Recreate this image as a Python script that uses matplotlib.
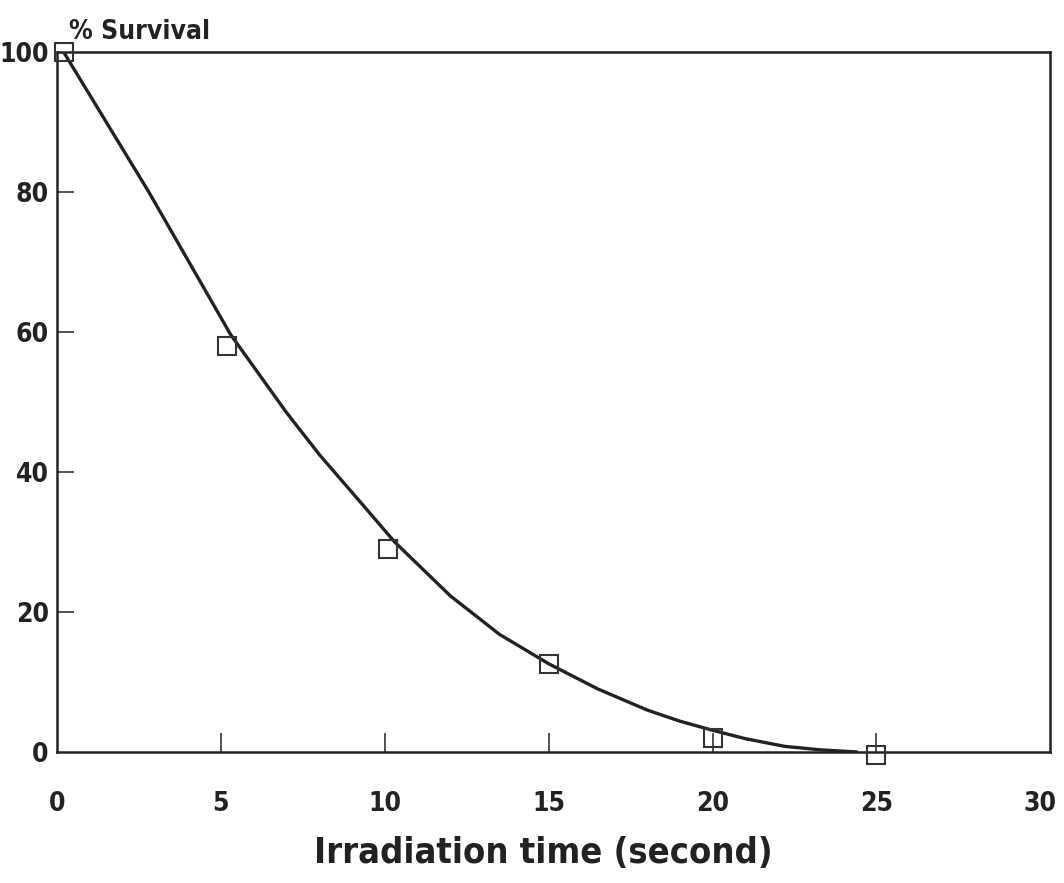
import matplotlib
matplotlib.use("Agg")
import matplotlib.pyplot as plt

# Measured data points (irradiation time in seconds, % survival)
time_points = [0.2, 5.2, 10.1, 15.0, 20.0, 25.0]
survival_points = [100, 58, 29, 12.5, 2, -0.5]

# Fitted curve
curve_time = [0.2, 2.8, 5.3, 7.0, 8.0, 9.2, 10.3, 12.0, 13.5, 15.0, 16.5, 18.0, 19.0,
              20.0, 21.0, 22.2, 23.3, 24.4]
curve_survival = [100, 80, 59.6, 48.5, 42.5, 36, 30, 22.3, 16.8, 12.6, 9.0, 6.0, 4.4,
                  3.1, 1.9, 0.8, 0.3, 0]

x_ticks = [0, 5, 10, 15, 20, 25, 30]
y_ticks = [0, 20, 40, 60, 80, 100]

plt.rcParams['font.family'] = ['DejaVu Sans']
STRETCH = 'condensed'

fig = plt.figure(figsize=(10.64, 8.83), dpi=100)
ax = fig.add_axes([0.0536, 0.1484, 0.9334, 0.7927])

ax.plot(curve_time, curve_survival, color='#222222', lw=2.4, solid_capstyle='round',
        solid_joinstyle='round')
ax.plot(time_points, survival_points, linestyle='none', marker='s', markersize=13,
        markerfacecolor='none', markeredgecolor='#333333', markeredgewidth=1.5,
        clip_on=False, zorder=5)

ax.set_xlim(0, 30.3)
ax.set_ylim(0, 100)
ax.set_xticks(x_ticks)
ax.set_yticks(y_ticks)
ax.set_xticklabels([str(v) for v in x_ticks], fontsize=19, fontweight='bold',
                   color='#222222', fontstretch=STRETCH)
ax.set_yticklabels([str(v) for v in y_ticks], fontsize=19, fontweight='bold',
                   color='#222222', fontstretch=STRETCH)
ax.tick_params(axis='x', direction='in', length=14, width=1.2, pad=28, color='#333333')
ax.tick_params(axis='y', direction='in', length=12, width=1.2, pad=6, color='#333333')
for t in (ax.xaxis.get_major_ticks()[0], ax.xaxis.get_major_ticks()[-1],
          ax.yaxis.get_major_ticks()[0], ax.yaxis.get_major_ticks()[-1]):
    t.tick1line.set_visible(False)

for s in ax.spines.values():
    s.set_linewidth(1.8)
    s.set_color('#222222')

ax.set_xlabel('Irradiation time (second)', fontsize=26, fontweight='bold', color='#222222',
              fontstretch=STRETCH)
ax.xaxis.set_label_coords(0.49, -0.12)
ax.text(0.012, 1.01, '% Survival', transform=ax.transAxes, fontsize=19, fontweight='bold',
        color='#222222', ha='left', va='bottom', fontstretch=STRETCH)

fig.savefig('out.png', dpi=100, facecolor='white')
